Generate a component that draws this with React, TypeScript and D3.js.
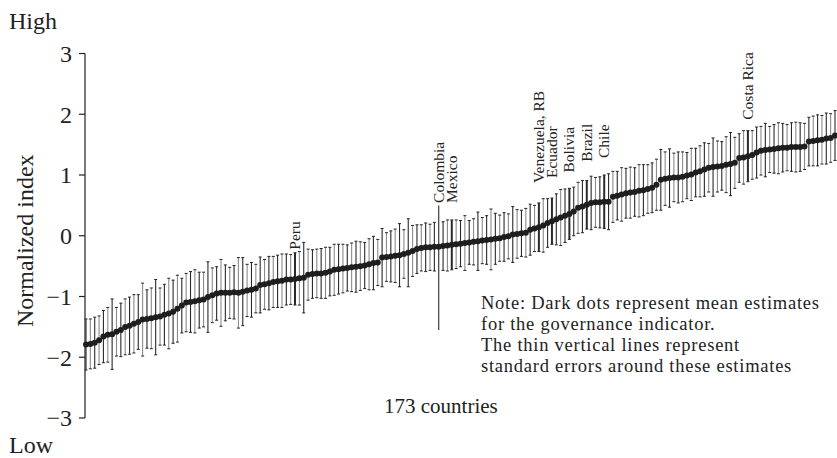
import React from "react";
import * as d3 from "d3";

// Mean estimates of the governance indicator for 173 countries (sorted)
const means: number[] = [
  -1.79, -1.78, -1.76, -1.72, -1.66, -1.63, -1.62, -1.58, -1.55, -1.5,
  -1.48, -1.45, -1.42, -1.38, -1.37, -1.36, -1.34, -1.33, -1.3, -1.28,
  -1.25, -1.2, -1.15, -1.1, -1.09, -1.08, -1.06, -1.05, -1.01, -0.98,
  -0.95, -0.94, -0.94, -0.94, -0.93, -0.94, -0.92, -0.9, -0.89, -0.87,
  -0.81, -0.8, -0.78, -0.76, -0.75, -0.74, -0.72, -0.72, -0.71, -0.7,
  -0.69, -0.64, -0.63, -0.62, -0.62, -0.61, -0.59, -0.56, -0.55, -0.54,
  -0.53, -0.52, -0.51, -0.5, -0.49, -0.47, -0.45, -0.44, -0.36, -0.35,
  -0.34, -0.33, -0.32, -0.3, -0.28, -0.25, -0.22, -0.2, -0.19, -0.19,
  -0.18, -0.18, -0.17, -0.16, -0.15, -0.14, -0.13, -0.12, -0.11, -0.1,
  -0.09, -0.08, -0.07, -0.06, -0.05, -0.04, -0.02, -0.01, 0.02, 0.03,
  0.04, 0.05, 0.1, 0.12, 0.14, 0.17, 0.21, 0.24, 0.27, 0.3,
  0.33, 0.36, 0.4, 0.46, 0.48, 0.51, 0.54, 0.55, 0.55, 0.56,
  0.56, 0.64, 0.66, 0.68, 0.7, 0.71, 0.72, 0.74, 0.75, 0.77,
  0.79, 0.84, 0.92, 0.94, 0.95, 0.96, 0.96, 0.97, 0.99, 1.01,
  1.04, 1.06, 1.09, 1.12, 1.13, 1.14, 1.15, 1.17, 1.18, 1.2,
  1.28, 1.29, 1.31, 1.33, 1.37, 1.4, 1.41, 1.42, 1.43, 1.44,
  1.45, 1.45, 1.46, 1.46, 1.46, 1.47, 1.55, 1.56, 1.57, 1.58,
  1.6, 1.61, 1.65,
];

// Standard errors around each estimate
const stdErrors: number[] = [
  0.42, 0.41, 0.42, 0.4, 0.43, 0.45, 0.58, 0.4, 0.44, 0.46,
  0.47, 0.48, 0.45, 0.6, 0.48, 0.5, 0.62, 0.47, 0.5, 0.58,
  0.52, 0.55, 0.45, 0.48, 0.5, 0.52, 0.46, 0.45, 0.58, 0.45,
  0.44, 0.55, 0.46, 0.42, 0.44, 0.58, 0.56, 0.43, 0.45, 0.4,
  0.46, 0.41, 0.44, 0.42, 0.43, 0.44, 0.42, 0.41, 0.43, 0.44,
  0.58, 0.42, 0.4, 0.4, 0.41, 0.42, 0.4, 0.42, 0.41, 0.4,
  0.38, 0.4, 0.42, 0.4, 0.38, 0.42, 0.44, 0.38, 0.48, 0.4,
  0.42, 0.44, 0.52, 0.4, 0.56, 0.42, 0.4, 0.38, 0.4, 0.38,
  0.4, 0.69, 0.4, 0.42, 0.41, 0.4, 0.38, 0.45, 0.36, 0.38,
  0.48, 0.38, 0.4, 0.5, 0.42, 0.38, 0.4, 0.37, 0.46, 0.4,
  0.38, 0.4, 0.42, 0.38, 0.4, 0.44, 0.4, 0.38, 0.42, 0.46,
  0.44, 0.42, 0.4, 0.42, 0.43, 0.4, 0.44, 0.41, 0.42, 0.44,
  0.46, 0.42, 0.4, 0.44, 0.41, 0.42, 0.4, 0.43, 0.42, 0.4,
  0.41, 0.42, 0.5, 0.44, 0.48, 0.4, 0.42, 0.41, 0.38, 0.43,
  0.4, 0.42, 0.44, 0.4, 0.48, 0.42, 0.4, 0.46, 0.52, 0.42,
  0.4, 0.44, 0.42, 0.4, 0.42, 0.4, 0.44, 0.38, 0.4, 0.42,
  0.4, 0.38, 0.4, 0.41, 0.4, 0.38, 0.4, 0.41, 0.42, 0.4,
  0.42, 0.4, 0.41,
];

// Colombia's extended range line
const colombiaIndex = 81;
const colombiaRange: [number, number] = [-1.55, 0.5];

// Labelled countries: position in ranking and label start height (index units)
const labelNames: string[] = ["Peru", "Colombia", "Mexico", "Venezuela, RB", "Ecuador", "Bolivia", "Brazil", "Chile", "Costa Rica"];
const labelIndices: number[] = [48, 81, 84, 104, 107, 111, 115, 119, 152];
const labelHeights: number[] = [-0.23, 0.54, 0.54, 0.87, 0.95, 1.04, 1.22, 1.28, 1.91];

const yTicks: number[] = [-3, -2, -1, 0, 1, 2, 3];
const noteLines: string[] = [
  "Note: Dark dots represent mean estimates",
  "for the governance indicator.",
  "The thin vertical lines represent",
  "standard errors around these estimates",
];

const W = 837;
const H = 458;
const FONT = "'Liberation Serif', 'Times New Roman', serif";

export default function App() {
  const n = means.length;
  const x = d3.scaleLinear().domain([0, n - 1]).range([86, 835]);
  const y = d3.scaleLinear().domain([-3, 3]).range([418, 53.5]);
  const fmt = d3.format("d");
  const axisX = 85;
  const labelled = new Set(labelIndices);

  return (
    <svg
      width={W}
      height={H}
      style={{ position: "absolute", left: 0, top: 0, background: "#fff" }}
      fontFamily={FONT}
    >
      {/* error bars */}
      <g>
        {means.map((m, i) => {
          const lo = i === colombiaIndex ? colombiaRange[0] : m - stdErrors[i];
          const hi = i === colombiaIndex ? colombiaRange[1] : m + stdErrors[i];
          const cx = x(i);
          const dark = labelled.has(i) || i % 2 === 0;
          const thick = labelled.has(i) && i !== colombiaIndex;
          return (
            <g key={i}>
              <line
                x1={cx}
                x2={cx}
                y1={y(lo)}
                y2={y(hi)}
                stroke={dark ? "#2a2a2a" : "#8c8c8c"}
                strokeWidth={thick ? 2 : 1.1}
              />
              {i !== colombiaIndex && (
                <>
                  <line x1={cx - 1.5} x2={cx + 1.5} y1={y(lo)} y2={y(lo)} stroke="#222" strokeWidth={1} />
                  <line x1={cx - 1.5} x2={cx + 1.5} y1={y(hi)} y2={y(hi)} stroke="#222" strokeWidth={1} />
                </>
              )}
            </g>
          );
        })}
      </g>
      {/* mean dots */}
      <g>
        {means.map((m, i) => (
          <circle key={i} cx={x(i)} cy={y(m)} r={3} fill="#1e1e1e" />
        ))}
      </g>
      {/* y axis */}
      <g>
        <line x1={axisX} x2={axisX} y1={y(-3)} y2={y(3)} stroke="#222" strokeWidth={1.2} />
        {yTicks.map((t) => (
          <g key={t}>
            <line x1={axisX - 6} x2={axisX} y1={y(t)} y2={y(t)} stroke="#222" strokeWidth={1.2} />
            <text
              x={72}
              y={y(t)}
              dy="0.35em"
              textAnchor="end"
              fontSize={24}
              fill="#222"
            >
              {fmt(t).replace("-", "\u2212")}
            </text>
          </g>
        ))}
      </g>
      <text x={9} y={29} fontSize={24} fill="#222">High</text>
      <text x={9} y={453} fontSize={24} fill="#222">Low</text>
      <text
        transform={`translate(33, ${y(0) + 5}) rotate(-90)`}
        textAnchor="middle"
        fontSize={24}
        fill="#222"
      >
        Normalized index
      </text>
      {/* country labels */}
      {labelNames.map((name, k) => (
        <text
          key={name}
          transform={`translate(${x(labelIndices[k]) + 5}, ${y(labelHeights[k])}) rotate(-90)`}
          fontSize={15.5}
          fill="#222"
        >
          {name}
        </text>
      ))}
      {/* note */}
      <text fontSize={18.5} fill="#222" letterSpacing={0.75}>
        {noteLines.map((line, k) => (
          <tspan key={k} x={481} y={309 + k * 21}>
            {line}
          </tspan>
        ))}
      </text>
      <text x={384} y={413} fontSize={21} fill="#222">173 countries</text>
    </svg>
  );
}
